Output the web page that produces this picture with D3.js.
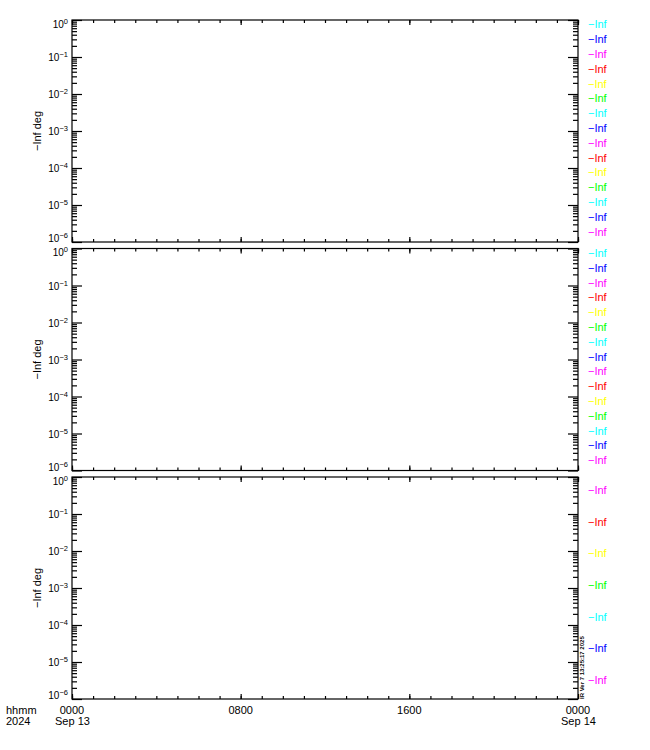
<!DOCTYPE html>
<html>
<head>
<meta charset="utf-8">
<script src="https://cdn.jsdelivr.net/npm/d3@7"></script>
<style>
body{margin:0;background:#fff;}
text{font-family:"Liberation Sans",Arial,sans-serif;}
</style>
</head>
<body>
<div id="chart"></div>
<script>
// ---- data ----
const yDomain = [1e-6, 1];
const yDecades = [0, -1, -2, -3, -4, -5, -6];
const timeStart = "2024-09-13T00:00:00";
const timeEnd = "2024-09-14T00:00:00";
const xTickLabels = ["0000", "0800", "1600", "0000"];
const xDateLabels = ["Sep 13", "", "", "Sep 14"];
const xLeftLabels = ["hhmm", "2024"];
const yLabel = "\u2212Inf deg";
const panel1Legend = ["\u2212Inf","\u2212Inf","\u2212Inf","\u2212Inf","\u2212Inf","\u2212Inf","\u2212Inf","\u2212Inf","\u2212Inf","\u2212Inf","\u2212Inf","\u2212Inf","\u2212Inf","\u2212Inf","\u2212Inf"];
const panel1Colors = ["#00ffff","#0000ff","#ff00ff","#ff0000","#ffff00","#00ff00","#00ffff","#0000ff","#ff00ff","#ff0000","#ffff00","#00ff00","#00ffff","#0000ff","#ff00ff"];
const panel2Legend = panel1Legend.slice();
const panel2Colors = panel1Colors.slice();
const panel3Legend = ["\u2212Inf","\u2212Inf","\u2212Inf","\u2212Inf","\u2212Inf","\u2212Inf","\u2212Inf"];
const panel3Colors = ["#ff00ff","#ff0000","#ffff00","#00ff00","#00ffff","#0000ff","#ff00ff"];
const stampText = "IR Ver 7 13:25:17 2025";

// ---- layout ----
const W = 650, H = 750;
const left = 72, right = 578;
const panelTops = [20, 248.5, 477];
const panelH = 222;

const svg = d3.select("#chart").append("svg").attr("width", W).attr("height", H);

const parse = d3.timeParse("%Y-%m-%dT%H:%M:%S");
const x = d3.scaleTime().domain([parse(timeStart), parse(timeEnd)]).range([left, right]);
const hourTicks = d3.timeHour.every(1).range(parse(timeStart), d3.timeHour.offset(parse(timeEnd), 1));
const majorX = d3.timeHour.every(8).range(parse(timeStart), d3.timeHour.offset(parse(timeEnd), 1));

const panels = [
  {legend: panel1Legend, colors: panel1Colors},
  {legend: panel2Legend, colors: panel2Colors},
  {legend: panel3Legend, colors: panel3Colors}
];

panels.forEach((p, pi) => {
  const top = panelTops[pi], bottom = top + panelH;
  const y = d3.scaleLog().domain(yDomain).range([bottom, top]);
  const g = svg.append("g");

  // frame
  g.append("rect").attr("x", left).attr("y", top).attr("width", right - left).attr("height", panelH)
    .attr("fill", "none").attr("stroke", "#000").attr("stroke-width", 1.2);

  // y ticks
  const majorY = yDecades.map(e => Math.pow(10, e));
  const minorY = [];
  yDecades.slice(1).forEach(e => { for (let m = 2; m <= 9; m++) minorY.push(m * Math.pow(10, e)); });

  const axes = [
    {ax: d3.axisLeft(y).tickValues(majorY).tickSize(-10), x: left},
    {ax: d3.axisLeft(y).tickValues(minorY).tickSize(-5), x: left},
    {ax: d3.axisRight(y).tickValues(majorY).tickSize(-10), x: right},
    {ax: d3.axisRight(y).tickValues(minorY).tickSize(-5), x: right}
  ];
  axes.forEach(a => {
    const ag = g.append("g").attr("transform", `translate(${a.x},0)`).call(a.ax.tickFormat(() => ""));
    ag.select(".domain").remove();
    ag.selectAll("line").attr("stroke", "#000").attr("stroke-width", 1.2);
  });

  // x ticks top/bottom
  [{ax: d3.axisBottom(x).tickValues(hourTicks).tickSize(-3), yy: bottom},
   {ax: d3.axisBottom(x).tickValues(majorX).tickSize(-5), yy: bottom},
   {ax: d3.axisTop(x).tickValues(hourTicks).tickSize(-3), yy: top},
   {ax: d3.axisTop(x).tickValues(majorX).tickSize(-5), yy: top}].forEach(a => {
    const ag = g.append("g").attr("transform", `translate(0,${a.yy})`).call(a.ax.tickFormat(() => ""));
    ag.select(".domain").remove();
    ag.selectAll("line").attr("stroke", "#000").attr("stroke-width", 1.2);
  });

  // y tick labels with superscripts
  yDecades.forEach((e, i) => {
    let by = y(Math.pow(10, e)) + 4;
    if (i === 0) by = top + 7.5;
    if (i === yDecades.length - 1) by = bottom;
    const t = g.append("text").attr("x", left - 4).attr("y", by)
      .attr("text-anchor", "end").attr("font-size", 10).attr("fill", "#000");
    t.append("tspan").text("10");
    t.append("tspan").attr("dy", -4).attr("font-size", 7.5).text(e === 0 ? "0" : "\u2212" + (-e));
  });

  // y label
  g.append("text").attr("transform", `translate(${41},${(top + bottom) / 2}) rotate(-90)`)
    .attr("text-anchor", "middle").attr("font-size", 11).text(yLabel);

  // legend
  const n = p.legend.length;
  const step = panelH / n;
  p.legend.forEach((lab, i) => {
    g.append("text").attr("x", 588).attr("y", top + (i + 0.5) * step + 1)
      .attr("font-size", 11).attr("fill", p.colors[i]).text(lab);
  });
});

// x labels
const lastBottom = panelTops[2] + panelH;
majorX.forEach((d, i) => {
  svg.append("text").attr("x", x(d)).attr("y", lastBottom + 15).attr("text-anchor", "middle")
    .attr("font-size", 11).text(xTickLabels[i]);
  if (xDateLabels[i]) {
    svg.append("text").attr("x", x(d) - 17).attr("y", lastBottom + 26)
      .attr("font-size", 11).text(xDateLabels[i]);
  }
});
xLeftLabels.forEach((s, i) => {
  svg.append("text").attr("x", 6).attr("y", lastBottom + 15 + i * 11).attr("font-size", 11).text(s);
});

// small rotated stamp
svg.append("text").attr("transform", `translate(${584},${lastBottom}) rotate(-90)`)
  .attr("font-size", 6).attr("font-weight", "bold").text(stampText);
</script>
</body>
</html>
